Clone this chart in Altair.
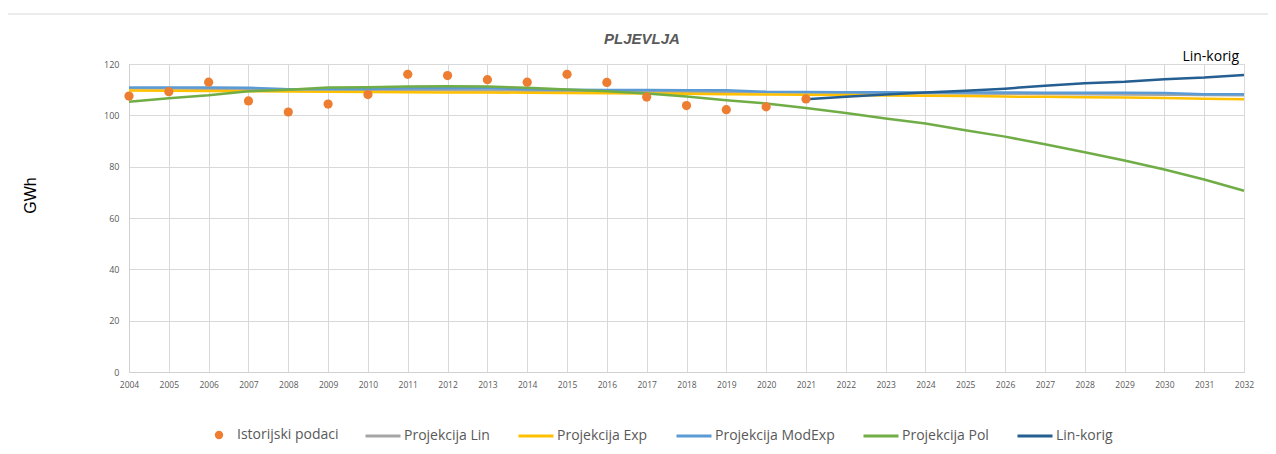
import altair as alt
import pandas as pd

years = list(range(2004, 2033))
hist_years = list(range(2004, 2022))
hist_vals = [107.5, 109.2, 112.9, 105.6, 101.3, 104.4, 108.1, 116.0, 115.5, 113.9,
             112.9, 116.0, 112.8, 107.1, 103.8, 102.2, 103.3, 106.4]

proj_lin = [110.6, 110.5, 110.4, 110.3, 110.2, 110.1, 110.0, 109.9, 109.8, 109.7,
            109.6, 109.5, 109.4, 109.3, 109.2, 109.1, 109.0, 108.9, 108.8, 108.7,
            108.6, 108.5, 108.4, 108.3, 108.2, 108.1, 108.0, 107.9, 107.8]
proj_exp = [109.7, 109.6, 109.5, 109.4, 109.3, 109.2, 109.1, 109.0, 108.9, 108.9,
            108.8, 108.7, 108.6, 108.5, 108.4, 108.2, 108.1, 108.0, 107.9, 107.7,
            107.6, 107.5, 107.3, 107.2, 107.0, 106.9, 106.8, 106.5, 106.3]
proj_modexp = [110.8, 110.8, 110.8, 110.7, 110.2, 110.2, 110.3, 110.6, 110.6, 110.6,
               110.2, 110.0, 109.9, 109.9, 109.8, 109.8, 109.2, 109.1, 109.0, 109.0,
               108.9, 108.9, 108.9, 108.8, 108.8, 108.8, 108.7, 108.2, 108.2]
proj_pol = [105.3, 106.7, 107.8, 109.4, 110.0, 110.8, 110.9, 111.2, 111.3, 111.2,
            110.7, 110.1, 109.4, 108.5, 107.3, 105.9, 104.6, 102.9, 100.9, 98.8,
            96.8, 94.2, 91.7, 88.7, 85.6, 82.4, 78.9, 75.0, 70.6]
korig_years = list(range(2021, 2033))
lin_korig = [106.3, 107.2, 108.1, 108.9, 109.6, 110.4, 111.5, 112.5, 113.1, 114.1,
             114.7, 115.7]

chart_title = "PLJEVLJA"
y_ticks = [0, 20, 40, 60, 80, 100, 120]
line_series = ["Projekcija Lin", "Projekcija Exp", "Projekcija ModExp",
               "Projekcija Pol", "Lin-korig"]
line_colors = ["#A5A5A5", "#FFC000", "#5B9BD5", "#70AD47", "#255E91"]
line_widths = [2.5, 2.5, 5, 2.5, 2.5]

rows = []
for name, vals in zip(line_series[:4], [proj_lin, proj_exp, proj_modexp, proj_pol]):
    for y, v in zip(years, vals):
        rows.append({"year": y, "value": v, "series": name})
for y, v in zip(korig_years, lin_korig):
    rows.append({"year": y, "value": v, "series": "Lin-korig"})
lines_df = pd.DataFrame(rows)

hist_df = pd.DataFrame({"year": hist_years, "value": hist_vals,
                        "series": ["Istorijski podaci"] * len(hist_years)})
label_df = pd.DataFrame({"year": [korig_years[-1]], "value": [lin_korig[-1]],
                         "text": ["Lin-korig"]})
title_df = pd.DataFrame({"text": [chart_title]})

FONT = "Open Sans"
GREY = "#595959"

x_axis = alt.Axis(values=years, format="d", title=None, labelFontSize=8.5,
                  labelColor=GREY, labelFont=FONT, ticks=False, labelPadding=8,
                  grid=True, gridColor="#d9d9d9", domainColor="#d0d0d0",
                  labelFlush=False, labelOverlap=False)
y_axis = alt.Axis(values=y_ticks, title="GWh",
                  titleFontSize=16, titleFont="Liberation Sans",
                  titleFontWeight="normal", titleColor="#000000",
                  titleX=-99, titleY=131, titleAngle=-90,
                  titleAlign="center", titleBaseline="middle",
                  labelFontSize=9, labelColor=GREY, labelFont=FONT,
                  ticks=False, labelPadding=10, grid=True,
                  gridColor="#d9d9d9", domainColor="#d0d0d0")
x_scale = alt.Scale(domain=[2004, 2032], nice=False, zero=False)
y_scale = alt.Scale(domain=[0, 120], nice=False)


def xe():
    return alt.X("year:Q", scale=x_scale, axis=x_axis)


def ye():
    return alt.Y("value:Q", scale=y_scale, axis=y_axis)


lines = alt.Chart(lines_df).mark_line().encode(
    x=xe(), y=ye(),
    color=alt.Color("series:N", scale=alt.Scale(domain=line_series, range=line_colors),
                    legend=alt.Legend(title=None, orient="none", direction="horizontal",
                                      legendX=235, legendY=353, symbolType="stroke",
                                      symbolSize=1225, symbolStrokeWidth=3,
                                      labelFontSize=14, labelFont=FONT,
                                      labelColor=GREY, columnPadding=22, labelOffset=2,
                                      padding=0)),
    strokeWidth=alt.StrokeWidth("series:N",
                                scale=alt.Scale(domain=line_series, range=line_widths),
                                legend=None),
    detail="series:N",
)

points = alt.Chart(hist_df).mark_circle(size=85, opacity=1).encode(
    x=xe(), y=ye(),
    color=alt.Color("series:N", scale=alt.Scale(domain=["Istorijski podaci"], range=["#ED7D31"]),
                    legend=alt.Legend(title=None, orient="none", direction="horizontal",
                                      legendX=83, legendY=364, symbolType="circle",
                                      symbolSize=70, labelFontSize=14, labelFont=FONT,
                                      labelColor=GREY, labelOffset=11, padding=0)),
)

label = alt.Chart(label_df).mark_text(align="right", baseline="bottom", dx=-5, dy=-11,
                                      fontSize=14, font=FONT, color="#000000").encode(
    x=xe(), y=ye(), text="text:N")

title = alt.Chart(title_df).mark_text(fontSize=15, font="Liberation Sans",
                                      fontStyle="italic", fontWeight="bold", color=GREY,
                                      align="center", baseline="middle").encode(
    x=alt.value(513), y=alt.value(-25), text="text:N")

frame_top = alt.Chart(alt.Data(values=[{}])).mark_rule(color="#d9d9d9", strokeWidth=1).encode(
    x=alt.value(-122), x2=alt.value(1160), y=alt.value(-50))
frame_left = alt.Chart(alt.Data(values=[{}])).mark_rule(color="#d9d9d9", strokeWidth=1).encode(
    x=alt.value(-122), y=alt.value(-50), y2=alt.value(400))

chart = alt.layer(frame_top, frame_left, lines, points, label, title).resolve_scale(
    color="independent"
).properties(
    width=1115, height=308,
    autosize=alt.AutoSizeParams(type="none"),
    padding={"left": 121, "top": 56, "right": 24, "bottom": 74},
).configure_view(stroke=None).configure(background="white")

chart.save("out.html", embed_options={"renderer": "svg", "actions": False})
